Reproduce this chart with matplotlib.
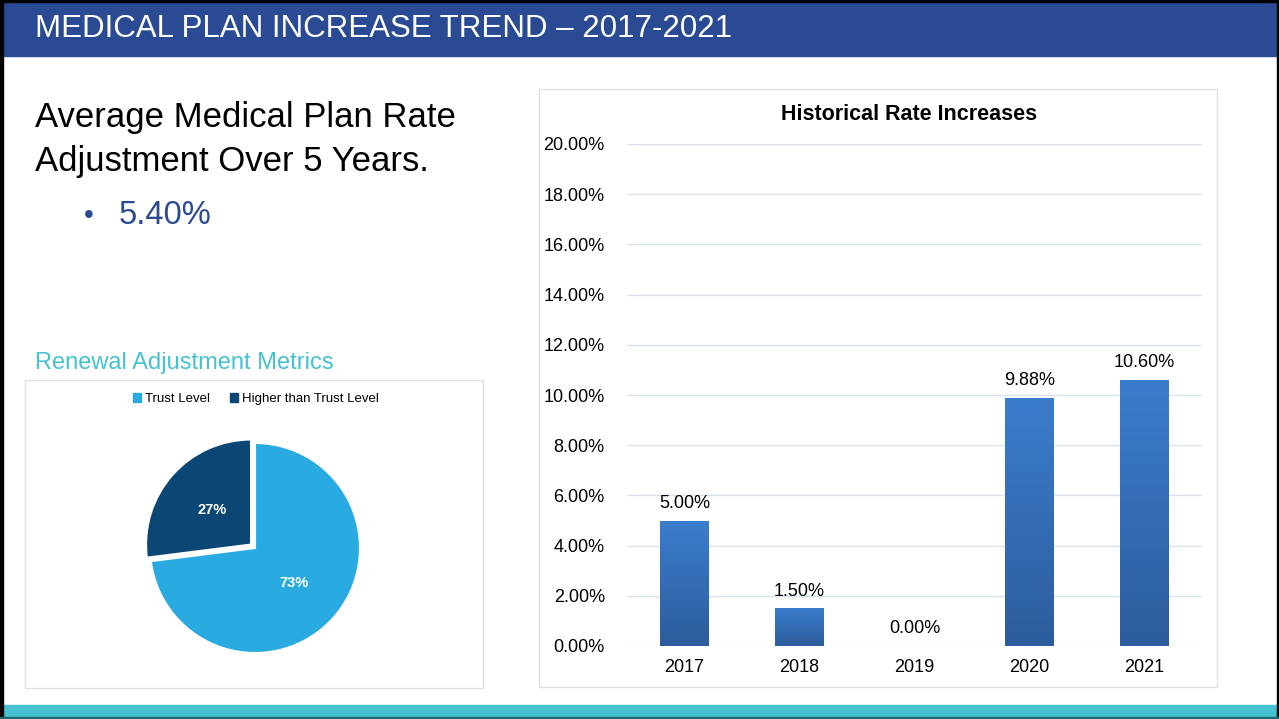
import numpy as np
import matplotlib
matplotlib.use("Agg")
import matplotlib.pyplot as plt
from matplotlib.patches import Rectangle

# === DATA ===
years = ["2017", "2018", "2019", "2020", "2021"]
rate_increase = [5.00, 1.50, 0.00, 9.88, 10.60]
y_ticks = [0, 2, 4, 6, 8, 10, 12, 14, 16, 18, 20]

pie_labels = ["Trust Level", "Higher than Trust Level"]
pie_values = [73, 27]

avg_adjustment = "5.40%"

# === FIGURE ===
W, H = 1279, 719
plt.rcParams['font.family'] = ['Liberation Sans', 'DejaVu Sans']
fig = plt.figure(figsize=(W / 100, H / 100), dpi=100)
fig.patch.set_facecolor("white")

def px(x0, y0, x1, y1):
    return [x0 / W, 1 - y1 / H, (x1 - x0) / W, (y1 - y0) / H]

navy = "#2B4A94"
teal = "#45C1D0"

# background layer for bands and boxes
bg = fig.add_axes([0, 0, 1, 1])
bg.set_xlim(0, W)
bg.set_ylim(H, 0)
bg.axis("off")
bg.add_patch(Rectangle((0, 0), W, 56, color=navy, zorder=1))
bg.add_patch(Rectangle((0, 705), W, 14, color=teal, zorder=1))
bg.add_patch(Rectangle((0, 0), W, 2, color="black", zorder=2))
bg.add_patch(Rectangle((0, 0), 3, H, color="black", zorder=2))
bg.add_patch(Rectangle((W - 2, 0), 2, H, color="black", zorder=2))
bg.add_patch(Rectangle((0, 717), W, 2, color="#1E6A70", zorder=2))
# chart frames
bg.add_patch(Rectangle((25, 380), 458, 308, fill=False, ec="#E0E0E0", lw=1, zorder=1))
bg.add_patch(Rectangle((539, 89), 678, 598, fill=False, ec="#E0E0E0", lw=1, zorder=1))

bg.text(35, 29, "MEDICAL PLAN INCREASE TREND – 2017-2021", color="white",
        fontsize=22.5, va="center", ha="left")
bg.text(35, 117, "Average Medical Plan Rate", fontsize=25, va="center", color="black")
bg.text(35, 162, "Adjustment Over 5 Years.", fontsize=25, va="center", color="black")
bg.text(84, 216, "•", fontsize=20, va="center", color=navy)
bg.text(119, 216, avg_adjustment, fontsize=23.5, va="center", color=navy)
bg.text(35, 363, "Renewal Adjustment Metrics", fontsize=17, va="center", color=teal)

# === BAR CHART ===
ax = fig.add_axes(px(627, 144, 1202, 646))
x = np.arange(len(years))
bars = ax.bar(x, rate_increase, width=0.42, color="none", zorder=3)
grad = np.linspace(0, 1, 256).reshape(-1, 1)
cmap = matplotlib.colors.LinearSegmentedColormap.from_list("bg", ["#2C5C9C", "#3B7DCD"])
for b in bars:
    h = b.get_height()
    if h <= 0:
        continue
    im = ax.imshow(grad, cmap=cmap, aspect="auto", origin="lower",
                   extent=[b.get_x(), b.get_x() + b.get_width(), 0, h], zorder=3)
    im.set_clip_path(b)
for xi, v in zip(x, rate_increase):
    ax.text(xi, v + 0.35, f"{v:.2f}%", ha="center", va="bottom", fontsize=13)
ax.set_xlim(-0.5, len(years) - 0.5)
ax.set_ylim(0, 20)
ax.set_yticks(y_ticks)
ax.set_yticklabels([f"{t:.2f}%" for t in y_ticks], fontsize=13)
ax.set_xticks(x)
ax.set_xticklabels(years, fontsize=13)
ax.grid(axis="y", color="#D9E2EE", lw=1, zorder=0)
for s in ax.spines.values():
    s.set_visible(False)
ax.tick_params(length=0, pad=16)
ax.tick_params(axis="x", pad=9)
ax.set_axisbelow(True)
fig.text(909 / W, 1 - 115 / H, "Historical Rate Increases", ha="center", va="center",
         fontsize=15.5, fontweight="bold")

# === PIE CHART ===
R = 105
pax = fig.add_axes(px(255 - 150, 548 - 150, 255 + 150, 548 + 150))
pie_colors = ["#29ABE2", "#0B4674"]
wedges, texts, autotexts = pax.pie(pie_values, colors=pie_colors, startangle=90,
                                   counterclock=False, explode=[0, 0.05],
                                   autopct="%d%%", pctdistance=0.5,
                                   wedgeprops=dict(edgecolor="white", linewidth=1.5))
for t in autotexts:
    t.set_color("white")
    t.set_fontsize(10.5)
    t.set_fontweight("bold")
pax.set_xlim(-150 / R, 150 / R)
pax.set_ylim(-150 / R, 150 / R)
pax.set_aspect("equal")
pax.axis("off")

handles = [Rectangle((0, 0), 1, 1, color=c) for c in pie_colors]
fig.legend(handles, pie_labels, loc="center", bbox_to_anchor=(256 / W, 1 - 399 / H),
           ncol=2, frameon=False, fontsize=9.5, handlelength=0.6, handleheight=0.6,
           handletextpad=0.3, columnspacing=1.5)

fig.savefig("out.png", dpi=100)
